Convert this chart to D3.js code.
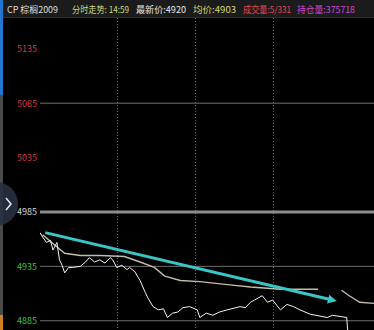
<!DOCTYPE html>
<meta charset="utf-8">
<script src="https://d3js.org/d3.v7.min.js"></script>
<style>
  body { margin: 0; background: #000; }
  svg { display: block; }
  text { font-family: "Noto Sans CJK SC", "DejaVu Sans", sans-serif; }
</style>
<div id="my_dataviz"></div>
<script>
// header items
var headerText = ["CP 棕榈2009", "分时走势: 14:59", "最新价:4920", "均价:4903", "成交量:5/331", "持仓量:375718"]

// price axis labels, previous close
var yTicks = [5135, 5085, 5035, 4985, 4935, 4885]
var prevClose = 4985

// minute line (minutes since open, price)
var priceMin = [0, 2, 5, 8, 10, 13, 15, 17, 19, 22, 25, 31, 35, 38, 42, 46, 50, 54, 56, 59, 63, 67, 69, 73, 77, 81, 83, 87, 91, 95, 98, 102, 106, 110, 115, 121, 123, 128, 133, 138, 144, 154, 158, 162, 165, 171, 175, 179, 185, 190, 195, 200, 208, 221, 225, 236, 237]
var priceVal = [4966, 4962, 4957, 4959, 4950, 4957, 4941, 4936, 4929, 4934, 4934, 4935, 4939, 4943, 4939, 4941, 4938, 4943, 4941, 4934, 4936, 4932, 4934, 4930, 4922, 4911, 4906, 4898, 4895, 4896, 4888, 4892, 4893, 4897, 4898, 4895, 4888, 4892, 4890, 4893, 4895, 4898, 4897, 4902, 4904, 4908, 4902, 4904, 4895, 4900, 4898, 4895, 4891, 4888, 4890, 4888, 4872]

// average price line (null = gap)
var avgMin = [2, 12, 19, 31, 46, 65, 77, 88, 96, 108, 123, 146, 162, 185, 214, 222, 232, 238, 246, 257]
var avgVal = [4964, 4954, 4947, 4945, 4945, 4944, 4939, 4934, 4926, 4922, 4921, 4918, 4916, 4914, 4914, null, 4913, 4908, 4902, 4901]

// trend arrow drawn on the chart
var arrowMin = [4, 225]
var arrowVal = [4966, 4904]

// vertical grid minutes
var gridMin = [59, 119, 179]

var width = 374
var height = 330
var chartTop = 18
var chartLeft = 40

var svg = d3.select("#my_dataviz")
    .append("svg")
    .attr("width", width)
    .attr("height", height)
    .style("background", "#000")

var x = d3.scaleLinear().domain([0, 257]).range([chartLeft, 374])
var y = d3.scaleLinear().domain([4876.5, 5163.3]).range([330, chartTop])

// header bar
svg.append("rect").attr("x", 0).attr("y", 0).attr("width", width).attr("height", chartTop).attr("fill", "#1b1b1b")
svg.append("line").attr("x1", 0).attr("x2", width).attr("y1", chartTop - 0.5).attr("y2", chartTop - 0.5)
    .attr("stroke", "#2c2c2c")

var hx = [7, 72, 136, 193, 243, 297]
var hw = [51, 57, 50, 43, 48, 58]
var hc = ["#dcdcdc", "#d6d676", "#e6e6e6", "#d6d676", "#e0485a", "#d048d0"]
svg.selectAll(".hd")
    .data(headerText)
    .enter()
    .append("text")
    .attr("x", function(d, i) { return hx[i] })
    .attr("y", 13)
    .attr("textLength", function(d, i) { return hw[i] })
    .attr("lengthAdjust", "spacingAndGlyphs")
    .attr("font-size", "9px")
    .attr("fill", function(d, i) { return hc[i] })
    .text(function(d) { return d })

// left strip
svg.append("rect").attr("x", 0).attr("y", 0).attr("width", 3).attr("height", 95).attr("fill", "#1f78d0")
svg.append("rect").attr("x", 0).attr("y", 95).attr("width", 3).attr("height", 220).attr("fill", "#4a4a4a")
svg.append("rect").attr("x", 0).attr("y", 315).attr("width", 3).attr("height", 15).attr("fill", "#d08020")

// vertical dotted grid
svg.selectAll(".vg")
    .data(gridMin)
    .enter()
    .append("line")
    .attr("x1", function(d) { return Math.round(x(d)) + 0.5 })
    .attr("x2", function(d) { return Math.round(x(d)) + 0.5 })
    .attr("y1", chartTop)
    .attr("y2", height)
    .attr("stroke", "#6a6a6a")
    .attr("stroke-dasharray", "1,2")

// horizontal lines
var hLines = yTicks.filter(function(d) { return d != 5135 && d != 5035 })
svg.selectAll(".hg")
    .data(hLines)
    .enter()
    .append("line")
    .attr("x1", chartLeft)
    .attr("x2", width)
    .attr("y1", function(d) { return y(d) })
    .attr("y2", function(d) { return y(d) })
    .attr("stroke", function(d) { return d == prevClose ? "#8c8c8c" : "#6e6e6e" })
    .attr("stroke-width", function(d) { return d == prevClose ? 3 : 1 })

// side button (under the labels)
svg.append("circle").attr("cx", -4).attr("cy", 204).attr("r", 22).attr("fill", "#283040").attr("opacity", 0.9)
svg.append("path")
    .attr("d", "M6,198L11,204L6,210")
    .attr("fill", "none")
    .attr("stroke", "#e8e8e8")
    .attr("stroke-width", 1.5)

// y labels
svg.selectAll(".yl")
    .data(yTicks)
    .enter()
    .append("text")
    .attr("x", 17)
    .attr("y", function(d) { return y(d) + 3.5 })
    .attr("font-size", "9px")
    .attr("textLength", 20)
    .attr("lengthAdjust", "spacingAndGlyphs")
    .attr("fill", function(d) { return d > prevClose ? "#d03a48" : (d < prevClose ? "#3cc043" : "#d8d8d8") })
    .text(function(d) { return d })

// clip
svg.append("clipPath").attr("id", "clip")
    .append("rect").attr("x", chartLeft).attr("y", chartTop).attr("width", width - chartLeft).attr("height", height - chartTop)
var g = svg.append("g").attr("clip-path", "url(#clip)")

// average line
var avgData = avgMin.map(function(d, i) { return [d, avgVal[i]] })
g.append("path")
    .datum(avgData)
    .attr("fill", "none")
    .attr("stroke", "#c4bcaa")
    .attr("stroke-width", 1.4)
    .attr("d", d3.line()
        .defined(function(d) { return d[1] != null })
        .x(function(d) { return x(d[0]) })
        .y(function(d) { return y(d[1]) }))

// price line
var priceData = priceMin.map(function(d, i) { return [d, priceVal[i]] })
g.append("path")
    .datum(priceData)
    .attr("fill", "none")
    .attr("stroke", "#f2f2f2")
    .attr("stroke-width", 1)
    .attr("d", d3.line()
        .x(function(d) { return x(d[0]) })
        .y(function(d) { return y(d[1]) }))

// trend arrow
svg.append("defs").append("marker")
    .attr("id", "arrow")
    .attr("viewBox", "0 0 10 10")
    .attr("refX", 5)
    .attr("refY", 5)
    .attr("markerWidth", 3)
    .attr("markerHeight", 3)
    .attr("orient", "auto")
    .append("path")
    .attr("d", "M0,0L10,5L0,10Z")
    .attr("fill", "#38c6c8")

g.append("line")
    .attr("x1", x(arrowMin[0]))
    .attr("y1", y(arrowVal[0]))
    .attr("x2", x(arrowMin[1]))
    .attr("y2", y(arrowVal[1]))
    .attr("stroke", "#38c6c8")
    .attr("stroke-width", 3)
    .attr("marker-end", "url(#arrow)")
</script>
